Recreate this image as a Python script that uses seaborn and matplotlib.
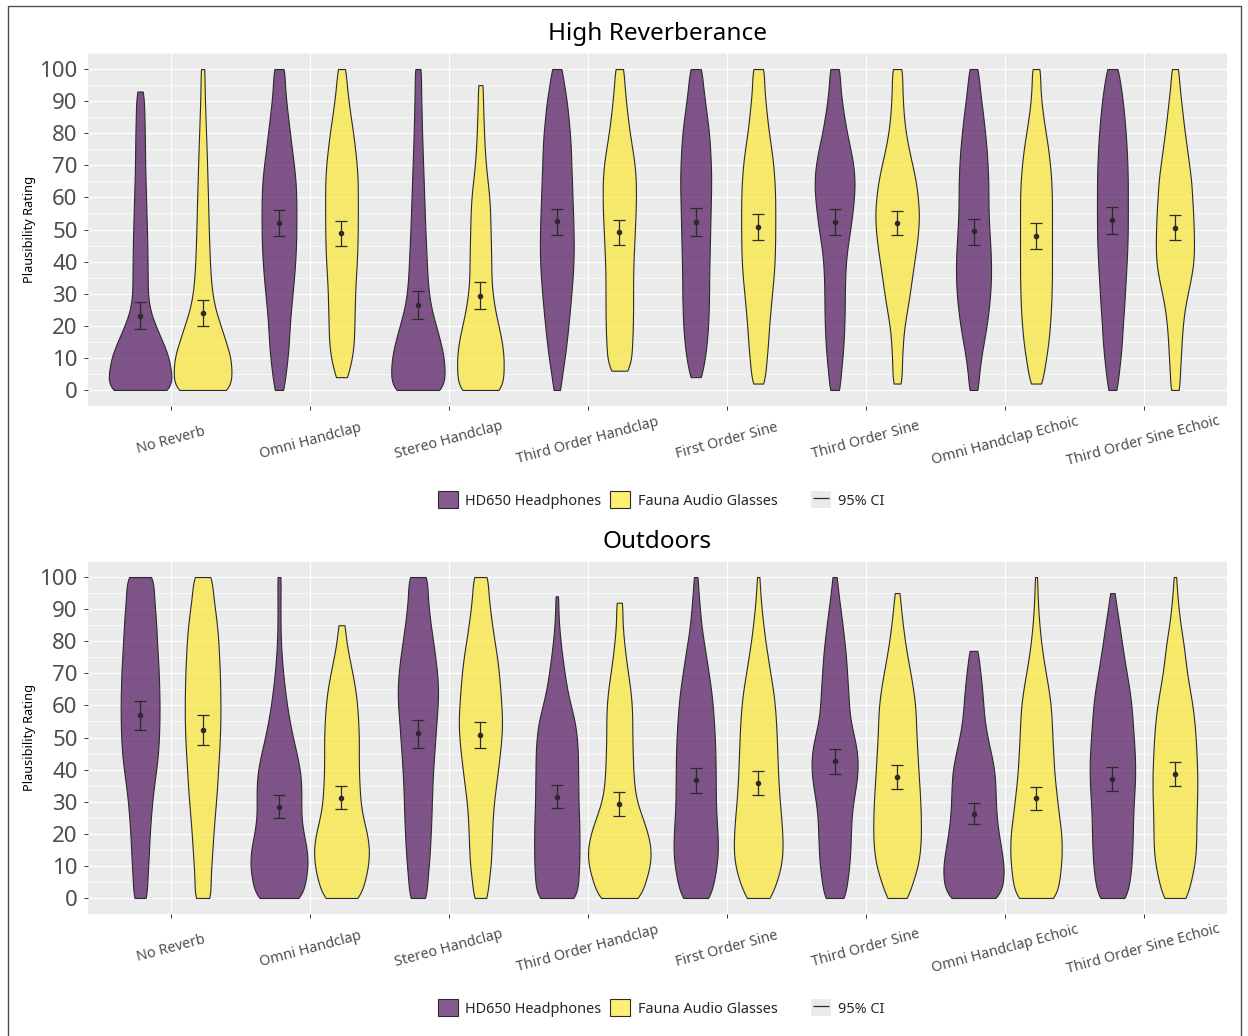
import numpy as np
import pandas as pd
import matplotlib
matplotlib.use("Agg")
import matplotlib.pyplot as plt
from matplotlib.collections import PolyCollection
from matplotlib.patches import Patch, Rectangle
from matplotlib.lines import Line2D
from matplotlib.legend_handler import HandlerTuple
from matplotlib.ticker import MultipleLocator
import seaborn as sns

# ---------------------------------------------------------------- data
CONDITIONS = ["No Reverb", "Omni Handclap", "Stereo Handclap", "Third Order Handclap",
              "First Order Sine", "Third Order Sine", "Omni Handclap Echoic",
              "Third Order Sine Echoic"]
DEVICES = ["HD650 Headphones", "Fauna Audio Glasses"]
PANEL_TITLES = ["High Reverberance", "Outdoors"]

# rating levels at which the response counts are tallied
RATING_LEVELS = [0, 5, 10, 15, 20, 25, 30, 35, 40, 45, 50,
                 55, 60, 65, 70, 75, 80, 85, 90, 95, 100]

# response counts per rating level, one row per condition
HR_HD650_COUNTS = [
    [190, 172, 162, 125, 85, 52, 42, 42, 41, 40, 38, 35, 33, 30, 28, 27, 26, 24, 20, 10, 0],
    [26, 37, 48, 55, 59, 66, 75, 83, 90, 94, 96, 96, 96, 92, 83, 71, 61, 50, 40, 32, 32],
    [150, 149, 145, 125, 100, 75, 60, 53, 49, 45, 41, 38, 35, 32, 29, 26, 23, 21, 19, 17, 18],
    [19, 30, 44, 55, 64, 73, 80, 88, 92, 94, 92, 90, 86, 84, 80, 78, 73, 64, 56, 40, 29],
    [8, 30, 52, 62, 69, 72, 74, 74, 76, 78, 80, 82, 84, 86, 84, 80, 74, 63, 51, 40, 34],
    [29, 34, 44, 50, 54, 56, 56, 58, 62, 72, 87, 98, 108, 112, 105, 88, 68, 53, 40, 30, 29],
    [26, 30, 42, 57, 73, 84, 93, 97, 97, 93, 87, 83, 82, 82, 78, 73, 64, 55, 43, 33, 25],
    [25, 35, 45, 53, 57, 64, 69, 74, 79, 83, 85, 85, 85, 85, 83, 79, 74, 66, 58, 45, 32],
]
HR_FAUNA_COUNTS = [
    [165, 160, 158, 128, 100, 70, 53, 45, 40, 37, 34, 32, 30, 27, 25, 22, 19, 16, 13, 11, 11],
    [10, 30, 60, 69, 71, 73, 75, 79, 85, 88, 90, 90, 90, 90, 85, 75, 65, 51, 39, 29, 23],
    [126, 128, 130, 120, 100, 80, 67, 60, 60, 58, 56, 54, 50, 40, 30, 24, 20, 17, 14, 14, 0],
    [0, 40, 65, 72, 75, 76, 76, 76, 78, 82, 86, 90, 92, 92, 86, 72, 58, 46, 37, 28, 25],
    [20, 35, 48, 55, 60, 68, 76, 85, 91, 93, 94, 94, 94, 90, 84, 73, 59, 49, 40, 32, 34],
    [16, 22, 28, 32, 40, 56, 70, 82, 95, 108, 118, 122, 115, 104, 85, 64, 48, 37, 32, 28, 30],
    [18, 38, 57, 69, 77, 83, 86, 88, 88, 88, 88, 88, 88, 85, 78, 68, 54, 40, 29, 23, 24],
    [26, 27, 33, 37, 43, 53, 70, 90, 104, 106, 104, 101, 95, 91, 79, 67, 55, 44, 35, 24, 20],
]
OUT_HD650_COUNTS = [
    [38, 38, 44, 48, 52, 58, 65, 75, 87, 97, 102, 104, 105, 103, 101, 96, 91, 87, 81, 73, 76],
    [130, 142, 157, 152, 132, 119, 120, 121, 114, 95, 75, 57, 43, 32, 22, 15, 10, 8, 8, 8, 10],
    [48, 50, 59, 65, 69, 73, 75, 78, 82, 88, 94, 100, 107, 110, 104, 94, 82, 69, 59, 51, 54],
    [113, 115, 121, 122, 122, 120, 116, 116, 114, 114, 109, 98, 75, 55, 42, 30, 20, 12, 7, 7, 0],
    [80, 98, 114, 121, 118, 112, 108, 108, 107, 106, 103, 98, 92, 83, 70, 57, 43, 30, 23, 15, 11],
    [58, 68, 80, 85, 88, 90, 100, 116, 126, 124, 107, 85, 77, 73, 67, 62, 53, 43, 32, 20, 12],
    [146, 162, 165, 150, 136, 124, 120, 118, 113, 95, 75, 60, 53, 47, 38, 22, 12, 0, 0, 0, 0],
    [78, 93, 103, 107, 110, 111, 115, 121, 123, 121, 115, 109, 103, 92, 77, 63, 50, 38, 24, 12, 0],
]
OUT_FAUNA_COUNTS = [
    [46, 42, 47, 53, 58, 65, 72, 79, 83, 89, 93, 96, 96, 95, 93, 89, 85, 78, 67, 55, 52],
    [102, 125, 145, 151, 139, 115, 101, 97, 93, 93, 94, 90, 85, 75, 59, 41, 25, 18, 0, 0, 0],
    [38, 44, 56, 60, 63, 66, 73, 84, 95, 105, 114, 118, 113, 107, 100, 90, 76, 63, 52, 42, 42],
    [118, 140, 167, 173, 155, 125, 93, 80, 75, 72, 70, 70, 68, 60, 47, 35, 25, 18, 11, 12, 0],
    [68, 100, 125, 133, 130, 124, 116, 110, 106, 103, 100, 96, 90, 80, 65, 52, 38, 28, 18, 11, 7],
    [58, 85, 113, 125, 129, 128, 125, 120, 114, 110, 104, 102, 98, 87, 72, 56, 42, 31, 21, 14, 0],
    [112, 125, 135, 140, 137, 125, 115, 105, 97, 93, 88, 85, 80, 68, 53, 38, 27, 18, 12, 8, 6],
    [66, 85, 105, 114, 115, 116, 119, 121, 120, 116, 112, 105, 95, 80, 65, 55, 45, 30, 20, 12, 7],
]

# lowest and highest rating given per condition
HR_HD650_RANGE = [(0, 93), (0, 100), (0, 100), (0, 100), (4, 100), (0, 100), (0, 100), (0, 100)]
HR_FAUNA_RANGE = [(0, 100), (4, 100), (0, 97), (6, 100), (2, 100), (2, 100), (2, 100), (0, 100)]
OUT_HD650_RANGE = [(0, 100), (0, 100), (0, 100), (0, 94), (0, 100), (0, 100), (0, 77), (0, 95)]
OUT_FAUNA_RANGE = [(0, 100), (0, 85), (0, 100), (0, 92), (0, 100), (0, 97), (0, 100), (0, 100)]

# mean rating and 95% confidence interval per condition
HR_HD650_MEAN = [23.1, 52.0, 26.4, 52.5, 52.4, 52.4, 49.4, 52.9]
HR_HD650_CI = [(19.0, 27.3), (47.9, 56.0), (22.1, 30.8), (48.4, 56.5),
               (48.1, 56.6), (48.2, 56.4), (45.3, 53.3), (48.6, 57.0)]
HR_FAUNA_MEAN = [24.0, 48.9, 29.4, 49.2, 50.8, 52.1, 47.9, 50.5]
HR_FAUNA_CI = [(19.8, 28.1), (44.9, 52.8), (25.2, 33.5), (45.2, 53.1),
               (46.8, 54.8), (48.2, 55.7), (44.0, 52.0), (46.6, 54.4)]
OUT_HD650_MEAN = [57.0, 28.4, 51.3, 31.6, 36.7, 42.6, 26.3, 37.2]
OUT_HD650_CI = [(52.3, 61.5), (24.9, 32.0), (46.7, 55.6), (28.0, 35.1),
                (32.7, 40.5), (38.5, 46.5), (23.0, 29.5), (33.4, 40.8)]
OUT_FAUNA_MEAN = [52.3, 31.3, 50.7, 29.4, 35.9, 37.8, 31.0, 38.5]
OUT_FAUNA_CI = [(47.8, 56.9), (27.7, 34.9), (46.6, 54.9), (25.6, 33.0),
                (32.2, 39.7), (34.1, 41.4), (27.3, 34.7), (34.8, 42.3)]

# ---------------------------------------------------------------- style
PURPLE = "#440154"
YELLOW = "#FDE725"
FILL_ALPHA = 0.65
EDGE = "#2b2b2b"
PANEL_BG = "#EBEBEB"
TEXT_GRAY = "#4D4D4D"
GROUP_WIDTH = 0.9
DODGE = GROUP_WIDTH / 4
KDE_BW = 3.5  # kernel bandwidth in rating points

sns.set_theme(style="darkgrid")
plt.rcParams["font.family"] = ["Noto Sans", "DejaVu Sans"]


def fixed_bandwidth(kde):
    return KDE_BW / kde.dataset.std(ddof=1)


def build_frame(counts_hd, range_hd, counts_fa, range_fa):
    parts = []
    for dev, counts, ranges in ((DEVICES[0], counts_hd, range_hd),
                                (DEVICES[1], counts_fa, range_fa)):
        for cond, c, (lo, hi) in zip(CONDITIONS, counts, ranges):
            vals = np.clip(np.repeat(RATING_LEVELS, c), lo, hi).astype(float)
            parts.append(pd.DataFrame({"condition": cond, "device": dev, "rating": vals}))
    return pd.concat(parts, ignore_index=True)


def draw_panel(ax, df, counts_hd, counts_fa, mean_hd, ci_hd, mean_fa, ci_fa):
    sns.violinplot(data=df, x="condition", y="rating", hue="device",
                   order=CONDITIONS, hue_order=DEVICES, palette=[PURPLE, YELLOW],
                   saturation=1, width=GROUP_WIDTH, cut=0, density_norm="area",
                   common_norm=True, inner=None, linewidth=0.8, linecolor=EDGE,
                   bw_method=fixed_bandwidth, gridsize=200, legend=False, ax=ax)

    # rescale each violin by its number of responses so that widths follow
    # response counts; the widest violin in the panel fills its dodge slot
    totals = {0: [sum(c) for c in counts_hd], 1: [sum(c) for c in counts_fa]}
    violins = [c for c in ax.collections if isinstance(c, PolyCollection)]
    shapes = []
    for coll in violins:
        v = coll.get_paths()[0].vertices.copy()
        cx = (v[:, 0].max() + v[:, 0].min()) / 2
        cat = int(round(cx))
        dev = 0 if cx < cat else 1
        n = totals[dev][cat]
        shapes.append((coll, v, cx, n))
    widest = max((v[:, 0].max() - cx) * n for _, v, cx, n in shapes)
    for coll, v, cx, n in shapes:
        k = (GROUP_WIDTH / 4) * n / widest
        v[:, 0] = cx + (v[:, 0] - cx) * k
        coll.set_verts([v])
        fc = coll.get_facecolor()
        fc[:, 3] = FILL_ALPHA
        coll.set_facecolor(fc)

    idx = np.arange(len(CONDITIONS))
    for offset, means, cis in ((-DODGE, mean_hd, ci_hd), (DODGE, mean_fa, ci_fa)):
        means = np.asarray(means)
        cis = np.asarray(cis)
        ax.errorbar(idx + offset, means, yerr=[means - cis[:, 0], cis[:, 1] - means],
                    fmt="o", color=EDGE, ms=3.0, capsize=4.6, elinewidth=0.9,
                    capthick=0.9, zorder=5)

    ax.set_facecolor(PANEL_BG)
    ax.set_xlim(-0.6, len(CONDITIONS) - 0.4)
    ax.set_ylim(-5, 105)
    ax.set_yticks(range(0, 101, 10))
    ax.yaxis.set_minor_locator(MultipleLocator(5))
    ax.grid(True, which="major", axis="both", color="white", lw=0.85)
    ax.grid(True, which="minor", axis="y", color="white", lw=0.45)
    ax.set_axisbelow(True)
    for s in ax.spines.values():
        s.set_visible(False)
    ax.set_xlabel("")
    ax.set_ylabel("")
    ax.tick_params(axis="y", which="major", length=3, width=0.7, color="#333333",
                   labelsize=16, labelcolor=TEXT_GRAY, pad=4.5, left=True)
    ax.tick_params(axis="y", which="minor", length=0)
    ax.tick_params(axis="x", which="major", length=3, width=0.7, color="#333333",
                   labelsize=10.3, labelcolor=TEXT_GRAY, pad=22, bottom=True)
    ax.set_xticks(idx)
    ax.set_xticklabels(CONDITIONS, rotation=15, ha="center", va="center")


fig = plt.figure(figsize=(12.48, 10.36), dpi=100)
W, H = 1248.0, 1036.0

panel_boxes = [(88, 53, 1227, 406), (88, 561, 1227, 914)]
panel_counts = [(HR_HD650_COUNTS, HR_FAUNA_COUNTS), (OUT_HD650_COUNTS, OUT_FAUNA_COUNTS)]
frames = [build_frame(HR_HD650_COUNTS, HR_HD650_RANGE, HR_FAUNA_COUNTS, HR_FAUNA_RANGE),
          build_frame(OUT_HD650_COUNTS, OUT_HD650_RANGE, OUT_FAUNA_COUNTS, OUT_FAUNA_RANGE)]
stats = [(HR_HD650_MEAN, HR_HD650_CI, HR_FAUNA_MEAN, HR_FAUNA_CI),
         (OUT_HD650_MEAN, OUT_HD650_CI, OUT_FAUNA_MEAN, OUT_FAUNA_CI)]
title_y = [33.5, 542]
legend_y = [500, 1008]

for k in range(2):
    x0, y0, x1, y1 = panel_boxes[k]
    ax = fig.add_axes([x0 / W, 1 - y1 / H, (x1 - x0) / W, (y1 - y0) / H])
    draw_panel(ax, frames[k], *panel_counts[k], *stats[k])

    fig.text((x0 + x1) / 2 / W, 1 - title_y[k] / H, PANEL_TITLES[k],
             ha="center", va="center", fontsize=17.5, color="black")
    fig.text(30 / W, 1 - (y0 + y1) / 2 / H, "Plausibility Rating", rotation=90,
             ha="center", va="center", fontsize=9.2, color="black")

    fill_handles = [
        Patch(facecolor=matplotlib.colors.to_rgba(PURPLE, FILL_ALPHA), edgecolor=EDGE, lw=0.8),
        Patch(facecolor=matplotlib.colors.to_rgba(YELLOW, FILL_ALPHA), edgecolor=EDGE, lw=0.8),
    ]
    fig.legend(fill_handles, DEVICES, loc="center left",
               bbox_to_anchor=(438 / W, 1 - legend_y[k] / H), ncol=2,
               frameon=False, fontsize=10.4, handlelength=1.4, handleheight=1.4,
               handletextpad=0.5, columnspacing=0.6, borderpad=0, borderaxespad=0)
    ci_handle = (Patch(facecolor=PANEL_BG, edgecolor="none"),
                 Line2D([], [], color=EDGE, lw=0, marker="_", ms=11, mew=0.9))
    fig.legend([ci_handle], ["95% CI"], loc="center left",
               bbox_to_anchor=(811 / W, 1 - legend_y[k] / H),
               handler_map={tuple: HandlerTuple(ndivide=1, pad=0)},
               frameon=False, fontsize=10.4, handlelength=1.4, handleheight=1.4,
               handletextpad=0.5, borderpad=0, borderaxespad=0, numpoints=1)

fig.patches.append(Rectangle((8 / W, -0.02), (1241 - 8) / W, 1 - 6 / H + 0.02,
                             transform=fig.transFigure, fill=False,
                             edgecolor="#4d4d4d", lw=1.0, zorder=10))

fig.savefig("out.png", dpi=100, facecolor="white")
